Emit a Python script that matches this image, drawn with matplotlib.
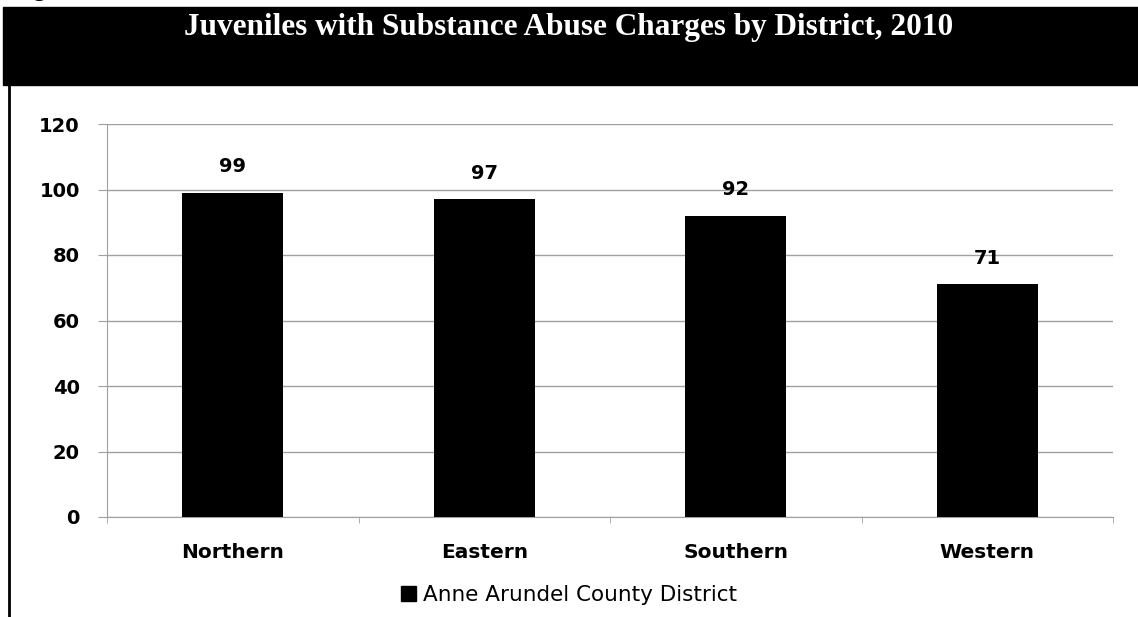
import numpy as np
import matplotlib.pyplot as plt
from matplotlib.patches import Rectangle
from matplotlib.lines import Line2D

# Data
districts = ['Northern', 'Eastern', 'Southern', 'Western']
charges = [99, 97, 92, 71]
series_name = 'Anne Arundel County District'
title = 'Juveniles with Substance Abuse Charges by District, 2010'

fig = plt.figure(figsize=(11.38, 6.17), dpi=100)

# black title banner and left border
fig.patches.append(Rectangle((3 / 1138, 1 - 85 / 617), 1, 78 / 617,
                             transform=fig.transFigure, color='black', zorder=0))
fig.lines.append(Line2D([9 / 1138, 9 / 1138], [0, 1 - 85 / 617], transform=fig.transFigure,
                        color='black', lw=2))
fig.text(0.5, 1 - 28 / 617, title, color='white', ha='center', va='center',
         fontsize=22.5, fontweight='bold', family='Liberation Serif')
fig.text(0.012, 1.014, 'Figure 3.6', ha='left', va='center', fontsize=16,
         fontweight='bold', family='Liberation Serif')

ax = fig.add_axes([107 / 1138, 1 - 517 / 617, (1113 - 107) / 1138, (517 - 124) / 617])
x = np.arange(len(districts))
bars = ax.bar(x, charges, width=0.4, color='black', zorder=3)

for b, v in zip(bars, charges):
    ax.annotate(str(v), (b.get_x() + b.get_width() / 2, v), xytext=(0, 12),
                textcoords='offset points', ha='center', va='bottom',
                fontsize=14, fontweight='bold', family='DejaVu Sans')

ax.set_xlim(-0.5, len(districts) - 0.5)
ax.set_ylim(0, 120)
ax.set_yticks(range(0, 121, 20))
ax.yaxis.grid(True, color='#a0a0a0', lw=1)
ax.set_axisbelow(True)
ax.set_xticks(x)
ax.set_xticklabels(districts, fontsize=14.5, fontweight='bold', family='DejaVu Sans')
ax.set_xticks(np.arange(len(districts) + 1) - 0.5, minor=True)
ax.tick_params(axis='x', which='major', length=0, pad=19)
ax.tick_params(axis='x', which='minor', length=4.5, color='#a0a0a0', direction='out')
ax.tick_params(axis='y', length=6.5, color='#a0a0a0', pad=13, labelsize=14)
for lbl in ax.get_yticklabels():
    lbl.set_fontweight('bold')
    lbl.set_family('DejaVu Sans')
for s in ['top', 'right']:
    ax.spines[s].set_visible(False)
for s in ['left', 'bottom']:
    ax.spines[s].set_color('#a0a0a0')

handle = Rectangle((0, 0), 1, 1, color='black')
fig.legend([handle], [series_name], loc='center', bbox_to_anchor=(0.5, 1 - 595 / 617),
           frameon=False, prop={'family': 'DejaVu Sans', 'size': 15.5},
           handlelength=0.7, handleheight=0.7, handletextpad=0.3)

fig.savefig('out.png', dpi=100)
